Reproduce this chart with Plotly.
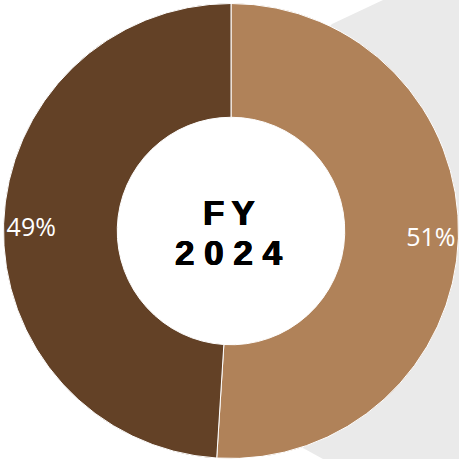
import math
import plotly.graph_objects as go

# Data
categories = ["Segment A", "Segment B"]
values = [51, 49]
colors = ["#B08259", "#634126"]
center_title = ["FY", "2024"]

W = H = 459
CX, CY = 231, 231

def px(x, y):
    return x / W, 1 - y / H

# gray backdrop polygon (pixel coords converted to paper); left edge runs through the ring
poly_px = [(383, 0), (459, 0), (459, 459), (323, 459), (303, 448)]
for ang in [160, 130, 90, 50, 20]:
    a = math.radians(ang)
    poly_px.append((CX + 170 * math.sin(a), CY - 170 * math.cos(a)))
poly_px.append((332, 24))
pts = [px(x, y) for x, y in poly_px]
path = "M " + " L ".join(f"{x:.5f},{y:.5f}" for x, y in pts) + " Z"

pad = "\u00a0" * 9
templates = [pad + "%{percent:.0%}", "%{percent:.0%}" + pad]

fig = go.Figure()
fig.add_trace(go.Pie(
    labels=categories,
    values=values,
    hole=0.5,
    sort=False,
    direction="clockwise",
    rotation=0,
    marker=dict(colors=colors, line=dict(color="white", width=1)),
    texttemplate=templates,
    textposition="inside",
    insidetextorientation="horizontal",
    textfont=dict(family="Open Sans", size=25, color="white", weight=400),
    domain=dict(x=[3.5 / W, 458.5 / W], y=[1 - 459 / H, 1 - 3 / H]),
    showlegend=False,
    hoverinfo="skip",
))

bold_shadow = "0.6px 0 0 black, -0.6px 0 0 black, 0 0.4px 0 black"
title_lines = ["F\u2009" + center_title[0][1:], "\u00a0".join(list(center_title[1]))]
for line, ypx in zip(title_lines, [212, 252]):
    fig.add_annotation(
        x=229 / W, y=1 - ypx / H, xref="paper", yref="paper",
        text=line, showarrow=False,
        font=dict(family="Liberation Sans", size=35, color="black", weight="bold",
                  shadow=bold_shadow),
        xanchor="center", yanchor="middle", align="center",
    )

fig.update_layout(
    width=W, height=H,
    margin=dict(l=0, r=0, t=0, b=0),
    paper_bgcolor="white", plot_bgcolor="white",
    shapes=[dict(type="path", path=path, xref="paper", yref="paper",
                 fillcolor="#EAEAEA", line=dict(width=0), layer="below")],
)

fig.write_html("out.html", config={"displayModeBar": False},
               post_script="document.body.style.margin='0';document.body.style.overflow='hidden';")
